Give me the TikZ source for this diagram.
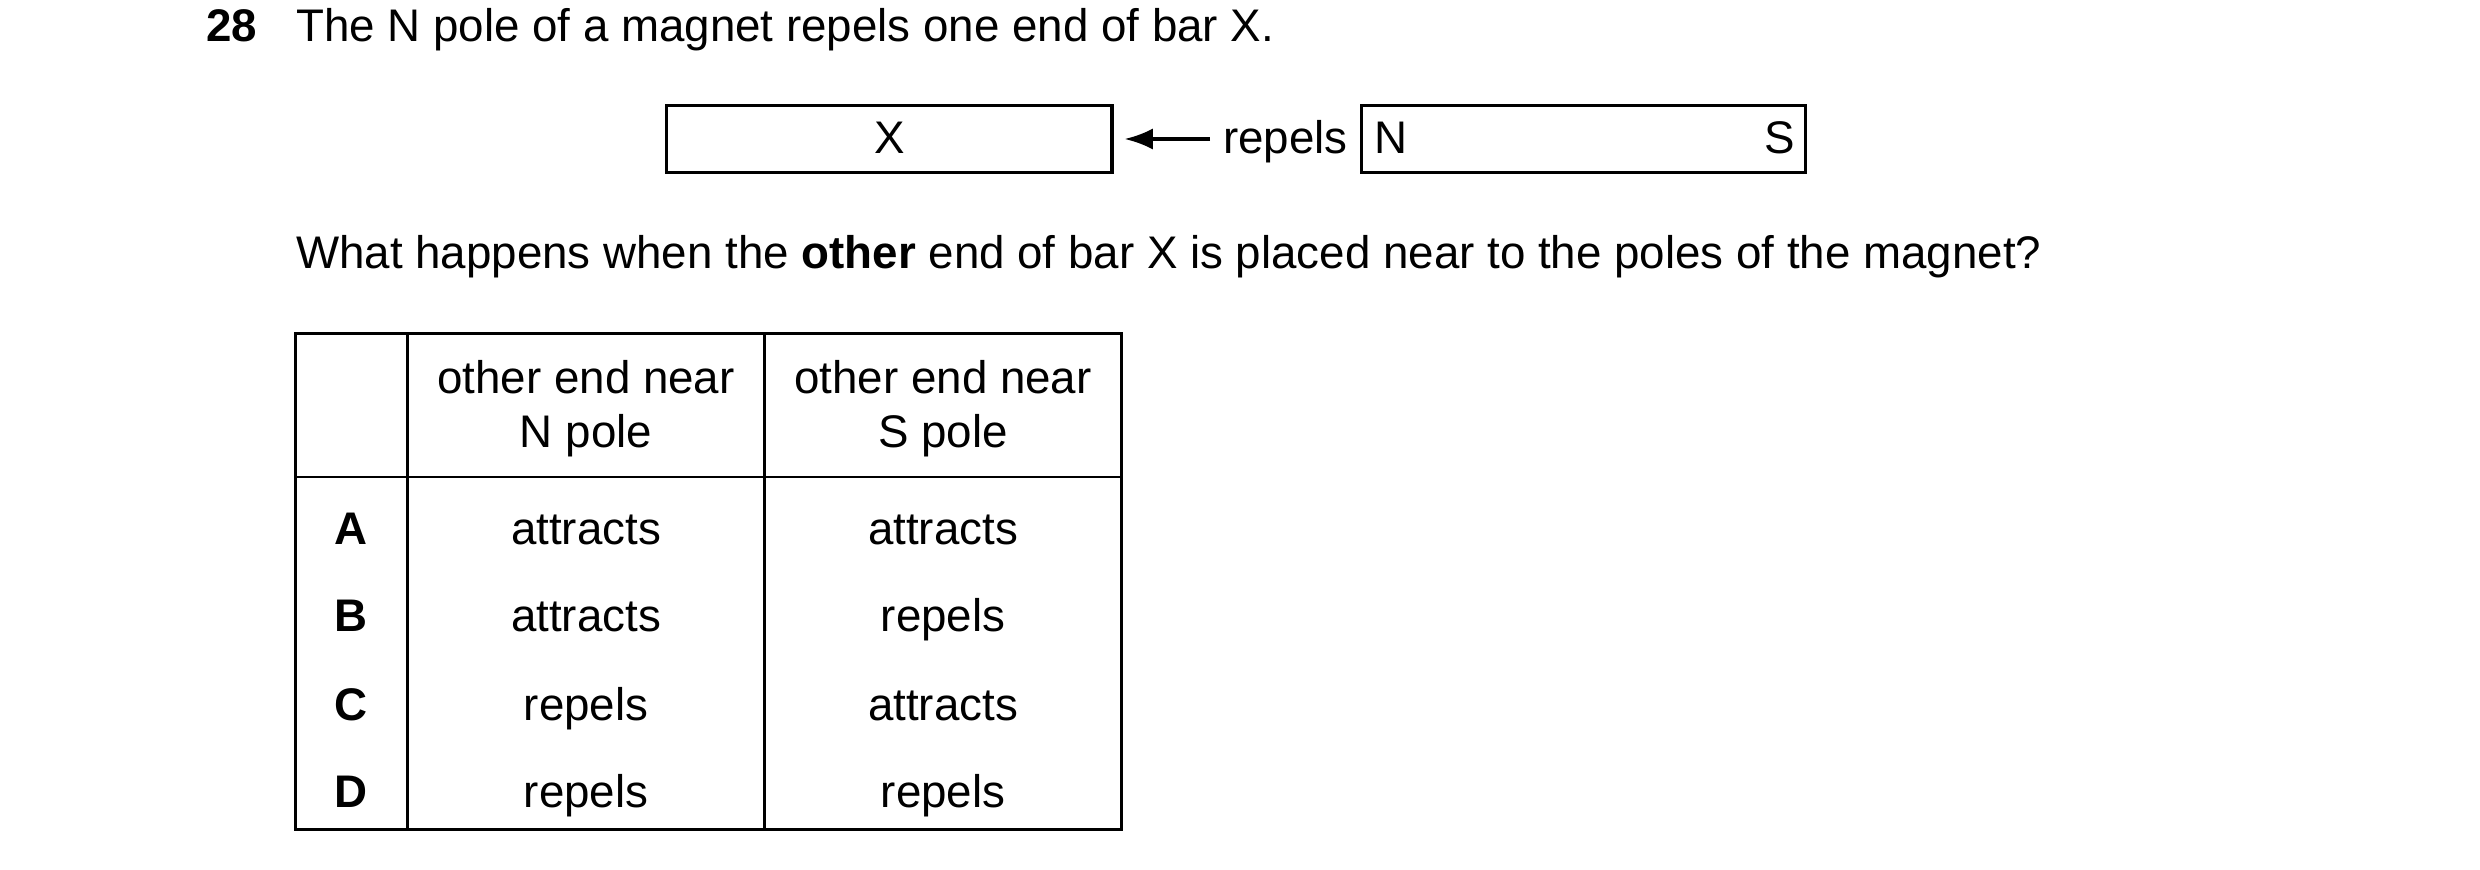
\documentclass[tikz,border=0pt]{standalone}
\usepackage{fontspec}
\setmainfont{Liberation Sans}
\usetikzlibrary{arrows.meta}
\begin{document}
\begin{tikzpicture}[x=0.0158cm,y=-0.0158cm,font=\fontsize{13}{15}\selectfont,
  bx/.style={draw,line width=0.9pt},
  t/.style={inner sep=0pt,anchor=base}]
\useasboundingbox (0,0) rectangle (1570,550.6);
\node[t,anchor=base west,font=\fontsize{13}{15}\selectfont\bfseries] (q) at (130,26) {28};
\node[t,anchor=base west] (qt) at (187,26) {The N pole of a magnet repels one end of bar X.};
\draw[bx] (422,67) rectangle (704,109);
\node[t] (x) at (563,97) {X};
\draw[bx] (862,67) rectangle (1143,109);
\node[t,anchor=base west] (n) at (870,97) {N};
\node[t,anchor=base east] (s) at (1137,97) {S};
\node[t,anchor=base west] (r) at (774,97) {repels};
\coordinate (a1) at (766,88); \coordinate (a2) at (712,88);
\draw[line width=0.9pt,-{Latex[length=8pt,width=6pt]}] (a1) -- (a2);
\node[t,anchor=base west] (q2) at (187,170) {What happens when the \textbf{other} end of bar X is placed near to the poles of the magnet?};
\draw[line width=0.7pt] (187,211) rectangle (710,525);
\draw[line width=0.7pt] (258,211) -- (258,525) (484,211) -- (484,525) (187,302) -- (710,302);
\node[t] at (371,249) {other end near};
\node[t] at (371,283) {N pole};
\node[t] at (597,249) {other end near};
\node[t] at (597,283) {S pole};
\foreach \l/\a/\b/\y in {A/attracts/attracts/345,B/attracts/repels/400,C/repels/attracts/456,D/repels/repels/511}{
  \node[t,font=\fontsize{13}{15}\selectfont\bfseries] at (222,\y) {\l};
  \node[t] at (371,\y) {\a};
  \node[t] at (597,\y) {\b};
}
\end{tikzpicture}
\end{document}
